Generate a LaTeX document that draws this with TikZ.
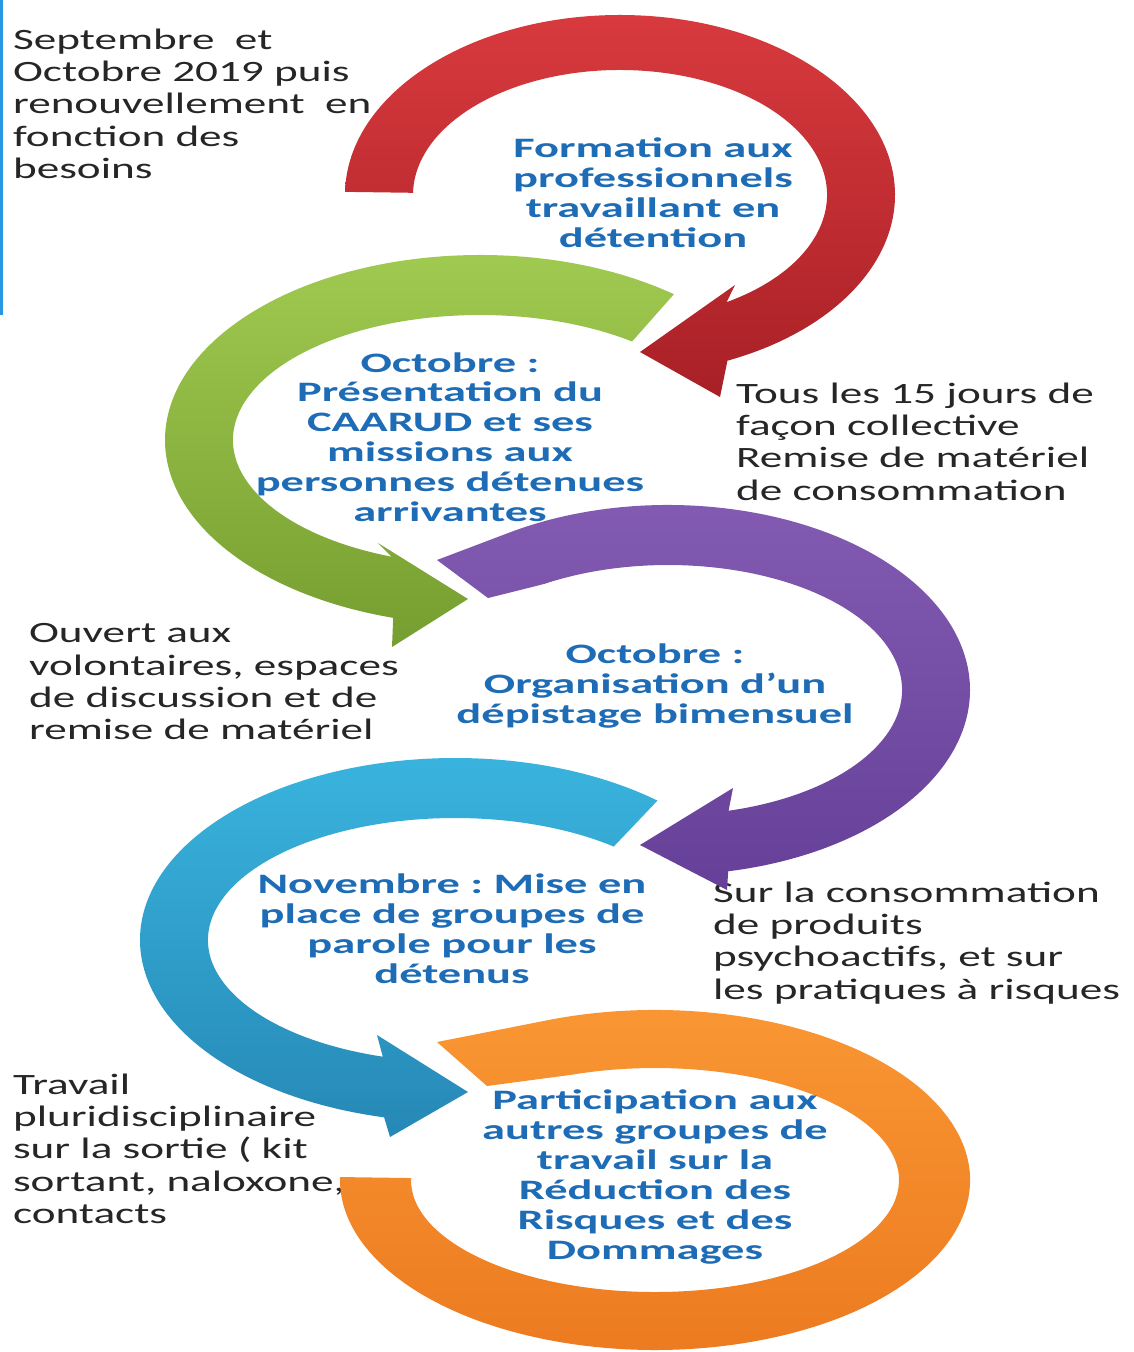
\documentclass[tikz,border=0pt]{standalone}
\usepackage{fontspec}
\setmainfont{Carlito}
\definecolor{stageblue}{RGB}{30,108,182}
\definecolor{notegray}{RGB}{38,38,38}
\definecolor{edgeblue}{RGB}{40,150,225}
\definecolor{redtop}{RGB}{216,58,62}
\definecolor{redbot}{RGB}{168,32,38}
\definecolor{greentop}{RGB}{162,204,82}
\definecolor{greenbot}{RGB}{118,158,48}
\definecolor{purpletop}{RGB}{132,92,180}
\definecolor{purplebot}{RGB}{102,64,152}
\definecolor{bluetop}{RGB}{58,182,224}
\definecolor{bluebot}{RGB}{38,136,182}
\definecolor{orangetop}{RGB}{250,152,52}
\definecolor{orangebot}{RGB}{236,122,32}
\begin{document}
\frenchspacing
\begin{tikzpicture}[x=0.01cm,y=-0.01cm,
stagetext/.style ={text=stageblue, font=\bfseries\fontsize{8}{8.5}\selectfont,
  align=center, xscale=1.65, inner sep=0pt
},
sidenote/.style ={text=notegray, font=\fontsize{8.4}{9.2}\selectfont,
  align=left, xscale=1.53, inner sep=0pt, anchor=north west
},
band/.style 2 args={top color=#1, bottom color=#2, draw=none}]
\useasboundingbox (0,0) rectangle (1134,1352);
\draw[edgeblue, line width=1.2pt] (1,0) -- (1,315);

% texts first, the bands lie over them
\node (n1) at (12,28) [sidenote] {Septembre~ et\\Octobre 2019 puis\\renouvellement~ en\\fonction des\\besoins};
\node (n2) at (735,382) [sidenote] {Tous les 15 jours de\\façon collective\\Remise de matériel\\de consommation};
\node (n3) at (28,623) [sidenote] {Ouvert aux\\volontaires, espaces\\de discussion et de\\remise de matériel};
\node (n4) at (712,881) [sidenote] {Sur la consommation\\de produits\\psychoactifs, et sur\\les pratiques à risques};
\node (n5) at (12,1073) [sidenote] {Travail\\pluridisciplinaire\\sur la sortie ( kit\\sortant, naloxone,\\contacts};

\node (s1) at (653,193) [stagetext] {Formation aux\\professionnels\\travaillant en\\détention};
\node (s2) at (450,437) [stagetext] {Octobre :\\Présentation du\\CAARUD et ses\\missions aux\\personnes détenues\\arrivantes};
\node (s3) at (655,686) [stagetext] {Octobre :\\Organisation d’un\\dépistage bimensuel};
\node (s4) at (452,929) [stagetext] {Novembre : Mise en\\place de groupes de\\parole pour les\\détenus};

% red
\begin{scope}[shift={(620,195)}]
\path[band={redtop}{redbot}]
  (181:275 and 180) arc[start angle=181, end angle=427, x radius=275, y radius=180]
  -- (100,202) -- (20,157) -- (115,90)
  -- (419:207 and 125) arc[start angle=419, end angle=181, x radius=207, y radius=125] -- cycle;
\end{scope}
% green
\begin{scope}[shift={(480,440)}]
\path[band={greentop}{greenbot}]
  (-52:315 and 185) arc[start angle=-52, end angle=-254, x radius=315, y radius=185]
  -- (-88,207) -- (-12,159) -- (-102,103)
  -- (-249:247 and 125) arc[start angle=-249, end angle=-52, x radius=247, y radius=125] -- cycle;
\end{scope}
% purple
\begin{scope}[shift={(668,690)}]
\path[band={purpletop}{purplebot}]
  (-231,-130) -- (-122:302 and 185) arc[start angle=-122, end angle=78.5, x radius=302, y radius=185]
  -- (59,200) -- (-28,155) -- (65,98)
  -- (75:234 and 125) arc[start angle=75, end angle=-122, x radius=234, y radius=125]
  -- (-180,-92) -- cycle;
\end{scope}
% blue
\begin{scope}[shift={(455,940)}]
\path[band={bluetop}{bluebot}]
  (-50:315 and 182) arc[start angle=-50, end angle=-257, x radius=315, y radius=182]
  -- (-65,197) -- (13,152) -- (-78,95)
  -- (-253:247 and 122) arc[start angle=-253, end angle=-50, x radius=247, y radius=122] -- cycle;
\end{scope}
% orange
\begin{scope}[shift={(655,1180)}]
\path[band={orangetop}{orangebot}]
  (-218,-138) -- (250:315 and 170) arc[start angle=250, end angle=541, x radius=315, y radius=170]
  -- (541:244 and 112) arc[start angle=541, end angle=250, x radius=244, y radius=112]
  -- (-168,-94) -- cycle;
\end{scope}

\node (s5) at (655,1177) [stagetext] {Participation aux\\autres groupes de\\travail sur la\\Réduction des\\Risques et des\\Dommages};
\end{tikzpicture}
\end{document}
